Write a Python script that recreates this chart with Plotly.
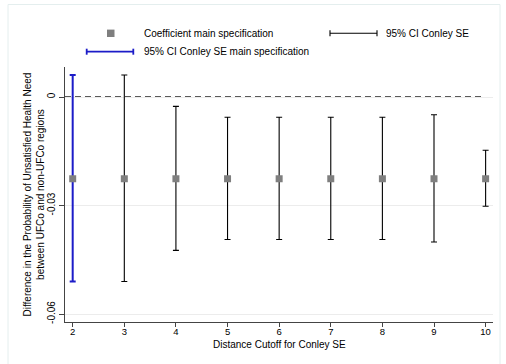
import plotly.graph_objects as go

# Distance cutoffs (x) and estimates
cutoffs = [2, 3, 4, 5, 6, 7, 8, 9, 10]
coef = [-0.0226, -0.0226, -0.0226, -0.0226, -0.0226, -0.0226, -0.0226, -0.0226, -0.0226]
ci_upper = [0.0061, 0.0061, -0.0026, -0.0056, -0.0056, -0.0056, -0.0056, -0.0049, -0.0147]
ci_lower = [-0.0510, -0.0510, -0.0424, -0.0394, -0.0394, -0.0394, -0.0394, -0.0401, -0.0302]
main_cutoff = 2

y_ticks = [0, -0.03, -0.06]
y_ticklabels = ["0", "-0.03", "-0.06"]

W, H = 506, 364
ML, MR, MT, MB = 65, 13, 67, 42
PW, PH = W - ML - MR, H - MT - MB


def px(x):
    return (x - ML) / PW


def py(y):
    return (H - MB - y) / PH


FONT = "Liberation Sans, Arial, sans-serif"
BLUE = "#1c1cc8"
GREY = "#7f7f7f"

fig = go.Figure()

# Confidence intervals for the alternative cutoffs
alt = [i for i, c in enumerate(cutoffs) if c != main_cutoff]
fig.add_trace(go.Scatter(
    x=[cutoffs[i] for i in alt],
    y=[coef[i] for i in alt],
    mode="markers",
    marker=dict(size=1, color="rgba(0,0,0,0)"),
    error_y=dict(
        type="data", symmetric=False,
        array=[ci_upper[i] - coef[i] for i in alt],
        arrayminus=[coef[i] - ci_lower[i] for i in alt],
        color="black", thickness=1.1, width=3,
    ),
    showlegend=False, hoverinfo="skip",
))

# Confidence interval for the main specification
m = cutoffs.index(main_cutoff)
fig.add_trace(go.Scatter(
    x=[cutoffs[m]], y=[coef[m]],
    mode="markers",
    marker=dict(size=1, color="rgba(0,0,0,0)"),
    error_y=dict(
        type="data", symmetric=False,
        array=[ci_upper[m] - coef[m]],
        arrayminus=[coef[m] - ci_lower[m]],
        color=BLUE, thickness=2, width=3,
    ),
    showlegend=False, hoverinfo="skip",
))

# Point estimates
fig.add_trace(go.Scatter(
    x=cutoffs, y=coef, mode="markers",
    marker=dict(symbol="square", size=7, color=GREY, line=dict(width=0)),
    showlegend=False, hoverinfo="skip",
))

shapes = []
# zero reference line
shapes.append(dict(type="line", xref="paper", yref="y", x0=0, x1=0.975, y0=0, y1=0,
                   line=dict(color="#5a5a5a", width=2, dash="6px,4px"), layer="below"))
# outer frame of the graph region
shapes.append(dict(type="rect", xref="paper", yref="paper",
                   x0=px(8), x1=px(500), y0=py(372), y1=py(4.5),
                   line=dict(color="#e4eeee", width=1), layer="below"))

# legend keys
ly1, ly2 = 33.3, 51.7
shapes.append(dict(type="rect", xref="paper", yref="paper",
                   x0=px(107), x1=px(114.5), y0=py(ly1 + 3.7), y1=py(ly1 - 3.7),
                   fillcolor=GREY, line=dict(width=0)))
for (x0, x1, yy, col, lw) in [(330, 377, ly1, "black", 1.1), (86.7, 133.3, ly2, BLUE, 1.8)]:
    shapes.append(dict(type="line", xref="paper", yref="paper",
                       x0=px(x0), x1=px(x1), y0=py(yy), y1=py(yy), line=dict(color=col, width=lw)))
    for xe in (x0, x1):
        shapes.append(dict(type="line", xref="paper", yref="paper",
                           x0=px(xe), x1=px(xe), y0=py(yy - 3), y1=py(yy + 3),
                           line=dict(color=col, width=lw)))

annotations = []
for (xt, yt, txt) in [(141.7, ly1, "Coefficient main specification"),
                      (384, ly1, "95% CI Conley SE"),
                      (141.7, ly2, "95% CI Conley SE main specification")]:
    annotations.append(dict(xref="paper", yref="paper", x=px(xt), y=py(yt),
                            xanchor="left", yanchor="middle", text=txt, showarrow=False,
                            font=dict(size=10, color="black", family=FONT)))

# y-axis title (two lines)
annotations.append(dict(xref="paper", yref="paper", x=px(33), y=0.5,
                        xanchor="center", yanchor="middle", textangle=-90, showarrow=False,
                        text="Difference in the Probability of Unsatisfied Health Need<br>between UFCo and non-UFCo regions",
                        font=dict(size=10, color="black", family=FONT)))

# x-axis title
annotations.append(dict(xref="paper", yref="paper", x=0.5, y=py(344.5),
                        xanchor="center", yanchor="middle", showarrow=False,
                        text="Distance Cutoff for Conley SE",
                        font=dict(size=10, color="black", family=FONT)))

fig.update_layout(
    width=W, height=H,
    margin=dict(l=ML, r=MR, t=MT, b=MB),
    paper_bgcolor="white", plot_bgcolor="white",
    font=dict(family=FONT, size=10, color="black"),
    shapes=shapes, annotations=annotations,
    xaxis=dict(
        range=[1.851, 10.143], tickmode="array", tickvals=cutoffs,
        ticktext=[str(c) for c in cutoffs],
        showline=True, linecolor="#444", linewidth=1,
        ticks="outside", ticklen=4, tickcolor="#444", tickwidth=1,
        ticklabelstandoff=-3,
        showgrid=False, zeroline=False,
        tickfont=dict(size=9.5, family=FONT, color="black"),
    ),
    yaxis=dict(
        range=[-0.06221, 0.0083], tickmode="array", tickvals=y_ticks,
        ticktext=y_ticklabels, tickangle=-90,
        showline=True, linecolor="#444", linewidth=1,
        ticks="outside", ticklen=5, tickcolor="#444", tickwidth=1,
        showgrid=True, gridcolor="#ececec", gridwidth=1, zeroline=False,
        tickfont=dict(size=10, family=FONT, color="black"),
    ),
)

fig.write_html("out.html")
